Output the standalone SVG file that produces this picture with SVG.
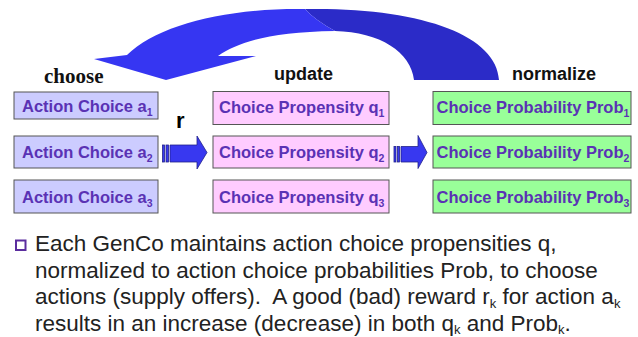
<svg xmlns="http://www.w3.org/2000/svg" width="638" height="337" viewBox="0 0 638 337">
<style>
.box{stroke:#555;stroke-width:1}
.act{fill:#ccccff}
.prop{fill:#ffccff}
.prob{fill:#99ff99}
.lbl{font-family:"Liberation Sans",Arial,sans-serif;font-weight:bold;font-size:16.5px;fill:#5a32b4}
.sub{font-size:10.5px}
.hdr{font-family:"Liberation Sans",Arial,sans-serif;font-weight:bold;font-size:18px;fill:#111}
.body{font-family:"Liberation Sans",Arial,sans-serif;font-size:22.5px;fill:#222}
.bsub{font-size:13px}
.arr{fill:#3838f0;stroke:#22228a;stroke-width:0.8}
</style>
<rect width="638" height="337" fill="#fff"/>
<g id="connectors">
  <g id="loop-arrow">
    <path d="M305,9 C420,7 497,35 499,80 L414,80 C411,52 380,32 335,31 Q315,20 305,9 Z" fill="#2b2bc8"/>
    <path d="M305,9 C225,8 158,25 127,55 L94,59 L166,80 L256,56 L218,56 C238,42 270,32 335,31 Q315,20 305,9 Z" fill="#3636f2"/>
  </g>
  <g id="arrow-r">
    <rect class="arr" x="162.5" y="145" width="2" height="17"/>
    <rect class="arr" x="166" y="145" width="2.5" height="17"/>
    <path class="arr" d="M170,145 L197,145 L197,136 L207,152.5 L197,169 L197,162 L170,162 Z"/>
  </g>
  <g id="arrow-norm">
    <rect class="arr" x="394" y="146.5" width="2" height="15.5"/>
    <rect class="arr" x="397.5" y="146.5" width="2" height="15.5"/>
    <path class="arr" d="M401,146.5 L418,146.5 L418,135.5 L427,152.5 L418,168.5 L418,162 L401,162 Z"/>
  </g>
  <text x="176" y="128" font-family="Liberation Sans,Arial,sans-serif" font-weight="bold" font-size="22" fill="#000">r</text>
</g>
<g id="headers">
  <text x="44" y="83" font-family="Liberation Serif,Times New Roman,serif" font-weight="bold" font-size="21" fill="#111">choose</text>
  <text class="hdr" x="274" y="80">update</text>
  <text class="hdr" x="512" y="80">normalize</text>
</g>
<g id="a1"><rect class="box act" x="14" y="92" width="144" height="27"/><text class="lbl" x="22" y="111.5">Action Choice a<tspan class="sub" dy="4">1</tspan></text></g>
<g id="a2"><rect class="box act" x="14" y="136" width="144" height="32"/><text class="lbl" x="22" y="158">Action Choice a<tspan class="sub" dy="4">2</tspan></text></g>
<g id="a3"><rect class="box act" x="14" y="180" width="144" height="33"/><text class="lbl" x="22" y="203">Action Choice a<tspan class="sub" dy="4">3</tspan></text></g>
<g id="q1"><rect class="box prop" x="213" y="91.5" width="176" height="33"/><text class="lbl" x="219" y="113">Choice Propensity q<tspan class="sub" dy="4">1</tspan></text></g>
<g id="q2"><rect class="box prop" x="213" y="136" width="176" height="32"/><text class="lbl" x="219" y="158">Choice Propensity q<tspan class="sub" dy="4">2</tspan></text></g>
<g id="q3"><rect class="box prop" x="213" y="180" width="176" height="33"/><text class="lbl" x="219" y="202.5">Choice Propensity q<tspan class="sub" dy="4">3</tspan></text></g>
<g id="p1"><rect class="box prob" x="433" y="91.5" width="198" height="33"/><text class="lbl" x="436.5" y="113">Choice Probability Prob<tspan class="sub" dy="4">1</tspan></text></g>
<g id="p2"><rect class="box prob" x="433" y="136" width="198" height="32"/><text class="lbl" x="436.5" y="158">Choice Probability Prob<tspan class="sub" dy="4">2</tspan></text></g>
<g id="p3"><rect class="box prob" x="433" y="180" width="198" height="33"/><text class="lbl" x="436.5" y="202.5">Choice Probability Prob<tspan class="sub" dy="4">3</tspan></text></g>
<g id="bullet">
  <rect x="16" y="240.5" width="9.5" height="9.5" fill="none" stroke="#5b2d9e" stroke-width="2"/>
  <text class="body" x="35" y="251">Each GenCo maintains action choice propensities q,</text>
  <text class="body" x="35" y="278">normalized to action choice probabilities Prob, to choose</text>
  <text class="body" x="35" y="304" xml:space="preserve">actions (supply offers).  A good (bad) reward r<tspan class="bsub" dy="3.5">k</tspan><tspan dy="-3.5"> for action a</tspan><tspan class="bsub" dy="3.5">k</tspan></text>
  <text class="body" x="35" y="331">results in an increase (decrease) in both q<tspan class="bsub" dy="3">k</tspan><tspan dy="-3"> and Prob</tspan><tspan class="bsub" dy="3">k</tspan><tspan dy="-3">.</tspan></text>
</g>
</svg>
